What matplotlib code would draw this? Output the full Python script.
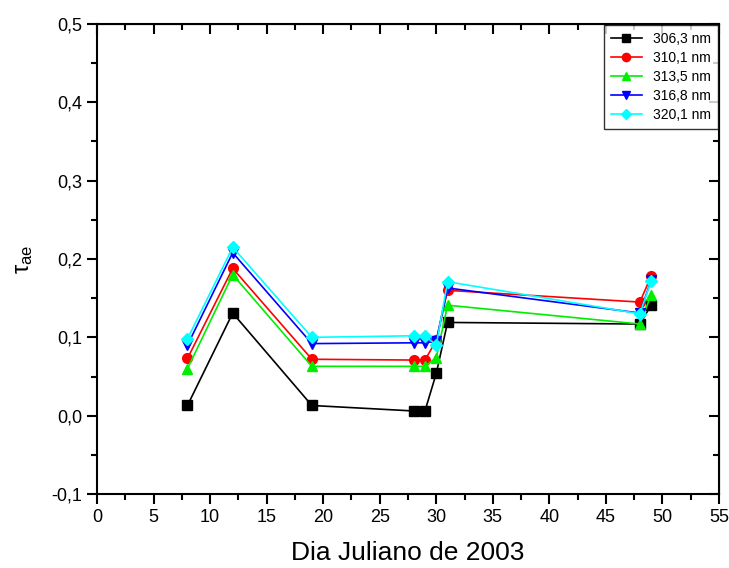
import matplotlib
matplotlib.use("Agg")
import matplotlib.pyplot as plt
from matplotlib.ticker import MultipleLocator, FuncFormatter

plt.rcParams['font.family'] = ['Liberation Sans', 'DejaVu Sans']

# Julian day of each measurement
dias = [8, 12, 19, 28, 29, 30, 31, 48, 49]

# aerosol optical depth per wavelength
tau_306 = [0.013, 0.131, 0.013, 0.006, 0.006, 0.054, 0.119, 0.117, 0.141]
tau_310 = [0.073, 0.188, 0.072, 0.071, 0.071, 0.096, 0.160, 0.145, 0.178]
tau_313 = [0.060, 0.180, 0.063, 0.063, 0.063, 0.074, 0.141, 0.117, 0.154]
tau_316 = [0.090, 0.208, 0.092, 0.093, 0.093, 0.095, 0.163, 0.131, 0.173]
tau_320 = [0.098, 0.215, 0.100, 0.102, 0.102, 0.090, 0.171, 0.130, 0.172]

series = [
    ("306,3 nm", tau_306, "black", "s"),
    ("310,1 nm", tau_310, "red", "o"),
    ("313,5 nm", tau_313, "#00ee00", "^"),
    ("316,8 nm", tau_316, "blue", "v"),
    ("320,1 nm", tau_320, "cyan", "D"),
]

fig = plt.figure(figsize=(7.29, 5.68), dpi=100)
ax = fig.add_axes([97 / 729, 1 - 494 / 568, 622 / 729, 470 / 568])

for label, vals, color, marker in series:
    ms = 6 if marker == "D" else 7
    ax.plot(dias, vals, color=color, marker=marker, markersize=ms, lw=1.2,
            label=label)

ax.set_xlim(0, 55)
ax.set_ylim(-0.1, 0.5)
ax.xaxis.set_major_locator(MultipleLocator(5))
ax.xaxis.set_minor_locator(MultipleLocator(2.5))
ax.yaxis.set_major_locator(MultipleLocator(0.1))
ax.yaxis.set_minor_locator(MultipleLocator(0.05))
ax.yaxis.set_major_formatter(FuncFormatter(lambda v, p: f"{v:.1f}".replace(".", ",").replace("-0,0", "0,0")))

for s in ax.spines.values():
    s.set_linewidth(1.5)

ax.tick_params(which='both', direction='out', width=1.5, labelsize=13)
ax.tick_params(which='major', length=7)
ax.tick_params(which='minor', length=4)
# mirrored ticks on top and right, pointing inwards
ax2 = ax.secondary_xaxis('top')
ax2.xaxis.set_major_locator(MultipleLocator(5))
ax2.xaxis.set_minor_locator(MultipleLocator(2.5))
ax2.tick_params(which='both', direction='in', width=1.5, labeltop=False)
ax2.tick_params(which='major', length=7)
ax2.tick_params(which='minor', length=4)
ax3 = ax.secondary_yaxis('right')
ax3.yaxis.set_major_locator(MultipleLocator(0.1))
ax3.yaxis.set_minor_locator(MultipleLocator(0.05))
ax3.tick_params(which='both', direction='in', width=1.5, labelright=False)
ax3.tick_params(which='major', length=7)
ax3.tick_params(which='minor', length=4)

ax.set_xlabel("Dia Juliano de 2003", fontsize=19, labelpad=11)
ax.set_ylabel(r"$\mathregular{\tau_{ae}}$", fontsize=17, labelpad=12)

leg = ax.legend(loc='upper right', fontsize=10, frameon=True, fancybox=False,
                edgecolor='black', borderaxespad=0.1, handlelength=2.2,
                labelspacing=0.35, markerscale=0.85, borderpad=0.5)
leg.get_frame().set_linewidth(1.0)

fig.savefig("out.png", dpi=100)
